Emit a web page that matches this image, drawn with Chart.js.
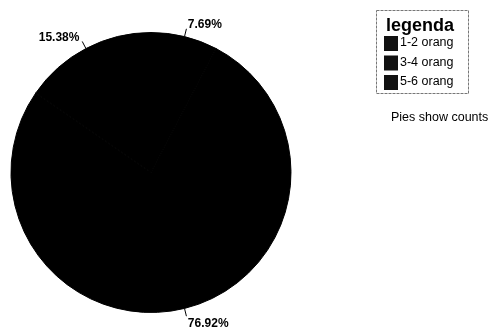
<!DOCTYPE html>
<html>
<head>
<meta charset="utf-8">
<script src="https://cdn.jsdelivr.net/npm/chart.js@4"></script>
<style>
  html, body { margin: 0; padding: 0; background: #fff; }
  canvas { display: block; }
</style>
</head>
<body>
<canvas id="pieChart" width="493" height="332"></canvas>
<script>
// data
const categories = ['1-2 orang', '3-4 orang', '5-6 orang'];
const counts = [1, 10, 2];
const sliceColors = ['#000000', '#000000', '#000000'];
const legendTitle = 'legenda';
const noteText = 'Pies show counts';

const total = counts.reduce((a, b) => a + b, 0);

// percentage labels with little leader lines
const pieLabels = {
    id: 'pieLabels',
    afterDatasetsDraw(chart) {
        const ctx = chart.ctx;
        const meta = chart.getDatasetMeta(0);
        ctx.save();
        ctx.font = 'bold 12px "Liberation Sans", Arial, sans-serif';
        ctx.fillStyle = '#000';
        ctx.strokeStyle = '#000';
        ctx.lineWidth = 1;
        ctx.textBaseline = 'middle';
        meta.data.forEach((arc, i) => {
            const mid = (arc.startAngle + arc.endAngle) / 2;
            const r = arc.outerRadius;
            const cos = Math.cos(mid), sin = Math.sin(mid);
            const x0 = arc.x + cos * r, y0 = arc.y + sin * r;
            const x1 = arc.x + cos * (r + 8), y1 = arc.y + sin * (r + 8);
            ctx.beginPath();
            ctx.moveTo(x0, y0);
            ctx.lineTo(x1, y1);
            ctx.stroke();
            const tx = arc.x + cos * (r + 14);
            const ty = arc.y + sin * (r + 14) + 2;
            ctx.textAlign = cos >= 0 ? 'left' : 'right';
            const pct = (counts[i] / total * 100).toFixed(2) + '%';
            ctx.fillText(pct, tx, ty);
        });
        ctx.restore();
    }
};

// legend box drawn by hand (framed, with title)
const boxLegend = {
    id: 'boxLegend',
    afterDraw(chart) {
        const ctx = chart.ctx;
        ctx.save();
        ctx.strokeStyle = '#777';
        ctx.lineWidth = 1;
        ctx.setLineDash([3, 1]);
        ctx.strokeRect(376.5, 10.5, 92, 83);
        ctx.setLineDash([]);
        ctx.fillStyle = '#000';
        ctx.textBaseline = 'middle';
        ctx.textAlign = 'left';
        ctx.font = 'bold 18px "Liberation Sans", Arial, sans-serif';
        ctx.fillText(legendTitle, 386, 26);
        ctx.font = '12.5px "Liberation Sans", Arial, sans-serif';
        categories.forEach((name, i) => {
            const y = 43 + i * 19.5;
            ctx.fillStyle = '#111';
            ctx.fillRect(384, y - 7, 14, 15);
            ctx.fillStyle = '#000';
            ctx.fillText(name, 400, y);
        });
        ctx.font = '12.5px "Liberation Sans", Arial, sans-serif';
        ctx.fillText(noteText, 391, 118);
        ctx.restore();
    }
};

new Chart(document.getElementById('pieChart'), {
    type: 'pie',
    data: {
        labels: categories,
        datasets: [{
            data: counts,
            backgroundColor: sliceColors,
            borderColor: '#000000',
            borderWidth: 1
        }]
    },
    options: {
        responsive: false,
        animation: false,
        layout: {
            padding: { left: 10, right: 201, top: 32, bottom: 19 }
        },
        plugins: {
            legend: { display: false },
            tooltip: { enabled: false }
        }
    },
    plugins: [pieLabels, boxLegend]
});
</script>
</body>
</html>
